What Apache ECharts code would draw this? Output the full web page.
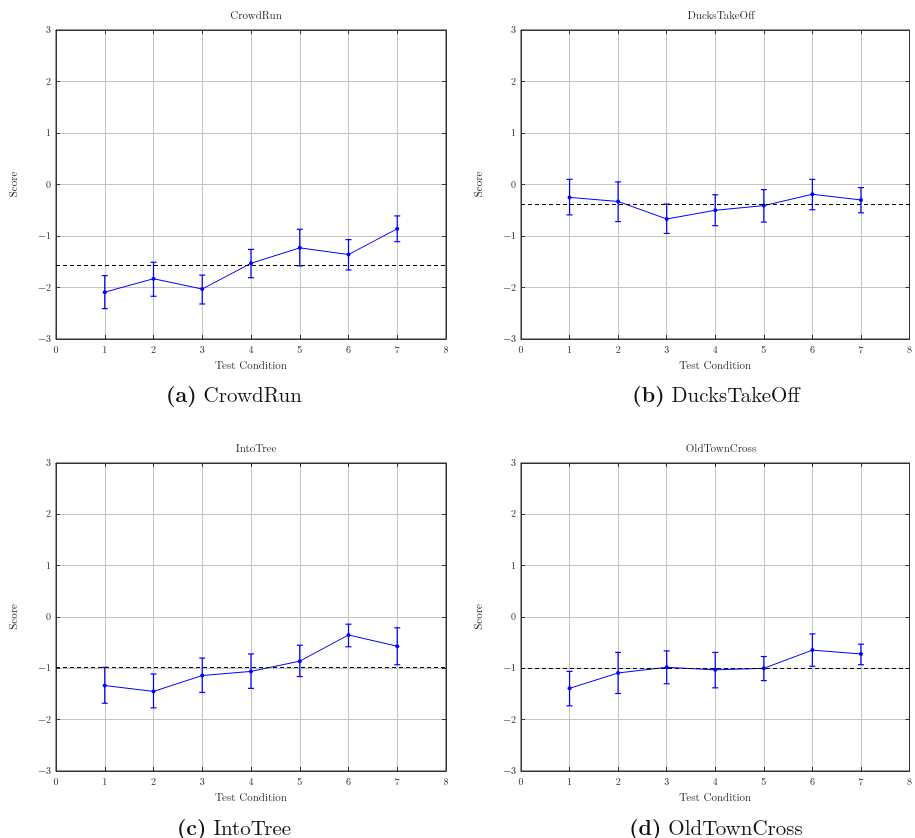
<!DOCTYPE html>
<html><head><meta charset="utf-8">
<script src="https://cdn.jsdelivr.net/npm/echarts@6/dist/echarts.min.js"></script>
<style>html,body{margin:0;padding:0;background:#fff}#c{width:915px;height:838px}</style>
</head><body><div id="c"></div>
<script>
const conditions = [1, 2, 3, 4, 5, 6, 7];
const xTicks = [0, 1, 2, 3, 4, 5, 6, 7, 8];
const yTicks = [-3, -2, -1, 0, 1, 2, 3];

const crowdRunMean  = [-2.09, -1.83, -2.03, -1.53, -1.23, -1.36, -0.86];
const crowdRunUpper = [-1.77, -1.51, -1.76, -1.26, -0.87, -1.07, -0.61];
const crowdRunLower = [-2.41, -2.17, -2.32, -1.81, -1.58, -1.66, -1.11];
const crowdRunRef = -1.57;

const ducksMean  = [-0.25, -0.33, -0.67, -0.50, -0.41, -0.19, -0.30];
const ducksUpper = [0.10, 0.05, -0.38, -0.20, -0.10, 0.10, -0.06];
const ducksLower = [-0.59, -0.72, -0.95, -0.80, -0.73, -0.49, -0.55];
const ducksRef = -0.38;

const intoTreeMean  = [-1.335, -1.45, -1.14, -1.06, -0.86, -0.35, -0.57];
const intoTreeUpper = [-0.98, -1.11, -0.80, -0.72, -0.55, -0.14, -0.21];
const intoTreeLower = [-1.68, -1.77, -1.47, -1.39, -1.16, -0.58, -0.93];
const intoTreeRef = -0.97;

const oldTownMean  = [-1.39, -1.09, -0.98, -1.03, -1.00, -0.645, -0.72];
const oldTownUpper = [-1.06, -0.69, -0.66, -0.69, -0.77, -0.33, -0.53];
const oldTownLower = [-1.73, -1.49, -1.30, -1.38, -1.24, -0.96, -0.93];
const oldTownRef = -0.99;

const panels = [
  {title: 'CrowdRun', tag: '(a)', mean: crowdRunMean, upper: crowdRunUpper, lower: crowdRunLower, ref: crowdRunRef},
  {title: 'DucksTakeOff', tag: '(b)', mean: ducksMean, upper: ducksUpper, lower: ducksLower, ref: ducksRef},
  {title: 'IntoTree', tag: '(c)', mean: intoTreeMean, upper: intoTreeUpper, lower: intoTreeLower, ref: intoTreeRef},
  {title: 'OldTownCross', tag: '(d)', mean: oldTownMean, upper: oldTownUpper, lower: oldTownLower, ref: oldTownRef}
];

const FONT = '"Latin Modern Roman","CMU Serif","DejaVu Serif",serif';
const gridPos = [
  {left: 56, top: 30, width: 390, height: 309},
  {left: 521, top: 30, width: 390, height: 309},
  {left: 56, top: 463, width: 390, height: 308},
  {left: 521, top: 463, width: 390, height: 308}
];
const captionY = [380, 813];
const captionX = [229, 711, 229, 711];

const BLUE = '#0000ff';
const grids = [], xAxes = [], yAxes = [], series = [], titles = [];
const fmt = v => String(v).replace('-', '\u2212');

panels.forEach((p, i) => {
  const g = gridPos[i];
  grids.push(Object.assign({show: true, borderColor: '#333', borderWidth: 1, backgroundColor: 'transparent'}, g));
  const xMain = xAxes.length;
  xAxes.push({
    type: 'value', gridIndex: i, min: xTicks[0], max: xTicks[xTicks.length - 1], interval: 1,
    position: 'bottom',
    name: 'Test Condition', nameLocation: 'middle', nameGap: 21,
    nameTextStyle: {fontFamily: FONT, fontSize: 11, color: '#222'},
    axisLine: {show: true, onZero: false, lineStyle: {color: '#333'}},
    axisTick: {show: true, inside: true, length: 4, lineStyle: {color: '#333'}},
    axisLabel: {fontFamily: FONT, fontSize: 10, color: '#222', margin: 6, formatter: fmt},
    splitLine: {show: true, lineStyle: {color: '#c4c4c4', width: 1}}
  });
  xAxes.push({
    type: 'value', gridIndex: i, min: xTicks[0], max: xTicks[xTicks.length - 1], interval: 1,
    position: 'top',
    axisLine: {show: true, onZero: false, lineStyle: {color: '#333'}},
    axisTick: {show: true, inside: true, length: 4, lineStyle: {color: '#333'}},
    axisLabel: {show: false}, splitLine: {show: false}
  });
  const yMain = yAxes.length;
  yAxes.push({
    type: 'value', gridIndex: i, min: yTicks[0], max: yTicks[yTicks.length - 1], interval: 1,
    position: 'left',
    name: 'Score', nameLocation: 'middle', nameGap: 37, nameRotate: 90,
    nameTextStyle: {fontFamily: FONT, fontSize: 11, color: '#222'},
    axisLine: {show: true, onZero: false, lineStyle: {color: '#333'}},
    axisTick: {show: true, inside: true, length: 4, lineStyle: {color: '#333'}},
    axisLabel: {fontFamily: FONT, fontSize: 10, color: '#222', margin: 5, formatter: fmt},
    splitLine: {show: true, lineStyle: {color: '#c4c4c4', width: 1}}
  });
  yAxes.push({
    type: 'value', gridIndex: i, min: yTicks[0], max: yTicks[yTicks.length - 1], interval: 1,
    position: 'right',
    axisLine: {show: true, onZero: false, lineStyle: {color: '#333'}},
    axisTick: {show: true, inside: true, length: 4, lineStyle: {color: '#333'}},
    axisLabel: {show: false}, splitLine: {show: false}
  });

  series.push({
    type: 'line', xAxisIndex: xMain, yAxisIndex: yMain,
    data: conditions.map((c, k) => [c, p.mean[k]]),
    symbol: 'circle', symbolSize: 4, showSymbol: true,
    lineStyle: {color: BLUE, width: 1}, itemStyle: {color: BLUE},
    z: 4, animation: false,
    markLine: {
      silent: true, symbol: 'none', label: {show: false}, animation: false,
      lineStyle: {color: '#000', type: [4, 3], width: 1},
      data: [{yAxis: p.ref}]
    }
  });
  series.push({
    type: 'custom', xAxisIndex: xMain, yAxisIndex: yMain,
    data: conditions.map((c, k) => [c, p.upper[k], p.lower[k]]),
    z: 3, animation: false,
    renderItem: function (params, api) {
      const x = api.value(0);
      const a = api.coord([x, api.value(1)]);
      const b = api.coord([x, api.value(2)]);
      const w = 3;
      const st = {stroke: BLUE, lineWidth: 1.2};
      return {type: 'group', children: [
        {type: 'line', shape: {x1: a[0], y1: a[1], x2: b[0], y2: b[1]}, style: st},
        {type: 'line', shape: {x1: a[0] - w, y1: a[1], x2: a[0] + w, y2: a[1]}, style: st},
        {type: 'line', shape: {x1: b[0] - w, y1: b[1], x2: b[0] + w, y2: b[1]}, style: st}
      ]};
    }
  });

  titles.push({
    text: p.title, left: g.left + g.width / 2, top: g.top - 25, textAlign: 'center',
    textStyle: {fontFamily: FONT, fontSize: 11, fontWeight: 'normal', color: '#222'}
  });
  titles.push({
    text: '{b|' + p.tag + '} {n|' + p.title + '}',
    left: captionX[i], top: captionY[Math.floor(i / 2)], textAlign: 'center',
    textStyle: {fontFamily: FONT, fontSize: 21, fontWeight: 'normal', color: '#111', rich: {
      b: {fontFamily: FONT, fontSize: 21, fontWeight: 'bold', color: '#111'},
      n: {fontFamily: FONT, fontSize: 21, fontWeight: 'normal', color: '#111'}
    }}
  });
});

const chart = echarts.init(document.getElementById('c'), null, {renderer: 'canvas'});
chart.setOption({
  animation: false,
  backgroundColor: '#fff',
  title: titles, grid: grids, xAxis: xAxes, yAxis: yAxes, series: series
});
</script></body></html>
